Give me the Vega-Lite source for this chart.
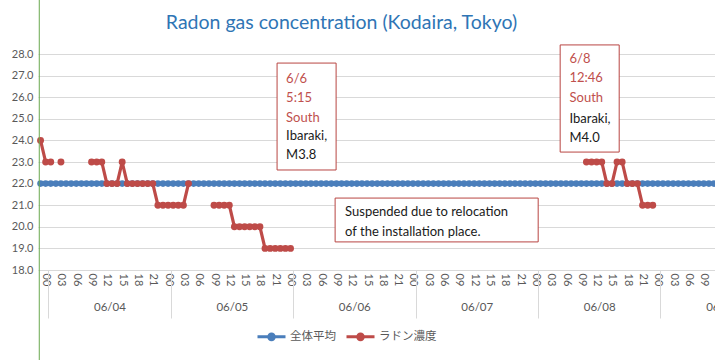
{
  "$schema": "https://vega.github.io/schema/vega-lite/v6.json",
  "width": 677,
  "height": 216,
  "autosize": {"type": "none"},
  "padding": {"left": 38, "top": 54, "right": 0, "bottom": 90},
  "background": "white",
  "title": {"text": "Radon gas concentration (Kodaira, Tokyo)", "font": "Lato", "fontSize": 19.5, "fontWeight": "normal", "color": "#2F75B5", "anchor": "middle", "dx": -35, "offset": -34},
  "datasets": {
    "avg": [
      {"h":-1,"v":22},{"h":0,"v":22},{"h":1,"v":22},{"h":2,"v":22},{"h":3,"v":22},{"h":4,"v":22},{"h":5,"v":22},{"h":6,"v":22},{"h":7,"v":22},{"h":8,"v":22},{"h":9,"v":22},{"h":10,"v":22},{"h":11,"v":22},{"h":12,"v":22},{"h":13,"v":22},{"h":14,"v":22},{"h":15,"v":22},{"h":16,"v":22},{"h":17,"v":22},{"h":18,"v":22},{"h":19,"v":22},{"h":20,"v":22},{"h":21,"v":22},{"h":22,"v":22},{"h":23,"v":22},
      {"h":24,"v":22},{"h":25,"v":22},{"h":26,"v":22},{"h":27,"v":22},{"h":28,"v":22},{"h":29,"v":22},{"h":30,"v":22},{"h":31,"v":22},{"h":32,"v":22},{"h":33,"v":22},{"h":34,"v":22},{"h":35,"v":22},{"h":36,"v":22},{"h":37,"v":22},{"h":38,"v":22},{"h":39,"v":22},{"h":40,"v":22},{"h":41,"v":22},{"h":42,"v":22},{"h":43,"v":22},{"h":44,"v":22},{"h":45,"v":22},{"h":46,"v":22},{"h":47,"v":22},
      {"h":48,"v":22},{"h":49,"v":22},{"h":50,"v":22},{"h":51,"v":22},{"h":52,"v":22},{"h":53,"v":22},{"h":54,"v":22},{"h":55,"v":22},{"h":56,"v":22},{"h":57,"v":22},{"h":58,"v":22},{"h":59,"v":22},{"h":60,"v":22},{"h":61,"v":22},{"h":62,"v":22},{"h":63,"v":22},{"h":64,"v":22},{"h":65,"v":22},{"h":66,"v":22},{"h":67,"v":22},{"h":68,"v":22},{"h":69,"v":22},{"h":70,"v":22},{"h":71,"v":22},
      {"h":72,"v":22},{"h":73,"v":22},{"h":74,"v":22},{"h":75,"v":22},{"h":76,"v":22},{"h":77,"v":22},{"h":78,"v":22},{"h":79,"v":22},{"h":80,"v":22},{"h":81,"v":22},{"h":82,"v":22},{"h":83,"v":22},{"h":84,"v":22},{"h":85,"v":22},{"h":86,"v":22},{"h":87,"v":22},{"h":88,"v":22},{"h":89,"v":22},{"h":90,"v":22},{"h":91,"v":22},{"h":92,"v":22},{"h":93,"v":22},{"h":94,"v":22},{"h":95,"v":22},
      {"h":96,"v":22},{"h":97,"v":22},{"h":98,"v":22},{"h":99,"v":22},{"h":100,"v":22},{"h":101,"v":22},{"h":102,"v":22},{"h":103,"v":22},{"h":104,"v":22},{"h":105,"v":22},{"h":106,"v":22},{"h":107,"v":22},{"h":108,"v":22},{"h":109,"v":22},{"h":110,"v":22},{"h":111,"v":22},{"h":112,"v":22},{"h":113,"v":22},{"h":114,"v":22},{"h":115,"v":22},{"h":116,"v":22},{"h":117,"v":22},{"h":118,"v":22},{"h":119,"v":22},
      {"h":120,"v":22},{"h":121,"v":22},{"h":122,"v":22},{"h":123,"v":22},{"h":124,"v":22},{"h":125,"v":22},{"h":126,"v":22},{"h":127,"v":22},{"h":128,"v":22},{"h":129,"v":22},{"h":130,"v":22},{"h":131,"v":22},{"h":132,"v":22}
    ],
    "radon": [
      {"h":-1,"v":24},{"h":0,"v":23},{"h":1,"v":23},{"h":2,"v":null},{"h":3,"v":23},{"h":4,"v":null},{"h":5,"v":null},{"h":6,"v":null},{"h":7,"v":null},{"h":8,"v":null},
      {"h":9,"v":23},{"h":10,"v":23},{"h":11,"v":23},{"h":12,"v":22},{"h":13,"v":22},{"h":14,"v":22},{"h":15,"v":23},
      {"h":16,"v":22},{"h":17,"v":22},{"h":18,"v":22},{"h":19,"v":22},{"h":20,"v":22},{"h":21,"v":22},
      {"h":22,"v":21},{"h":23,"v":21},{"h":24,"v":21},{"h":25,"v":21},{"h":26,"v":21},{"h":27,"v":21},{"h":28,"v":22},
      {"h":29,"v":null},{"h":30,"v":null},{"h":31,"v":null},{"h":32,"v":null},
      {"h":33,"v":21},{"h":34,"v":21},{"h":35,"v":21},{"h":36,"v":21},
      {"h":37,"v":20},{"h":38,"v":20},{"h":39,"v":20},{"h":40,"v":20},{"h":41,"v":20},{"h":42,"v":20},
      {"h":43,"v":19},{"h":44,"v":19},{"h":45,"v":19},{"h":46,"v":19},{"h":47,"v":19},{"h":48,"v":19},
      {"h":49,"v":null},{"h":105,"v":null},
      {"h":106,"v":23},{"h":107,"v":23},{"h":108,"v":23},{"h":109,"v":23},{"h":110,"v":22},{"h":111,"v":22},
      {"h":112,"v":23},{"h":113,"v":23},{"h":114,"v":22},{"h":115,"v":22},{"h":116,"v":22},
      {"h":117,"v":21},{"h":118,"v":21},{"h":119,"v":21},{"h":120,"v":null}
    ],
    "notes": [
      {"note":"q1","kind":"time","text":"6/6\n5:15\nSouth"},
      {"note":"q1","kind":"place","text":"Ibaraki,\nM3.8"},
      {"note":"q2","kind":"time","text":"6/8\n12:46\nSouth"},
      {"note":"q2","kind":"place","text":"Ibaraki,\nM4.0"},
      {"note":"s","kind":"place","text":"Suspended due to relocation\nof the installation place."}
    ]
  },
  "layer": [
    {
      "data": {"name": "avg"},
      "mark": {"type": "line", "strokeWidth": 3.5},
      "encoding": {
        "x": {"field": "h", "type": "quantitative", "scale": {"domain": [-1.5, 131.2], "nice": false, "zero": false},
          "axis": {"orient": "bottom", "values": [0,3,6,9,12,15,18,21,24,27,30,33,36,39,42,45,48,51,54,57,60,63,66,69,72,75,78,81,84,87,90,93,96,99,102,105,108,111,114,117,120,123,126,129],
            "labelExpr": "(datum.value % 24 < 10 ? '0' : '') + (datum.value % 24)", "labelAngle": 90, "ticks": false, "domain": false, "grid": false, "title": null,
            "labelFont": "Lato", "labelFontSize": 11, "labelColor": "#595959", "labelPadding": 3, "labelOverlap": false, "labelFlush": false, "labelBound": false}},
        "y": {"field": "v", "type": "quantitative", "scale": {"domain": [18, 28], "nice": false, "zero": false},
          "axis": {"orient": "left", "values": [18,19,20,21,22,23,24,25,26,27,28], "format": ".1f", "grid": true, "gridColor": "#d9d9d9", "ticks": false, "domain": false, "title": null,
            "labelFont": "Lato", "labelFontSize": 11, "labelColor": "#595959", "labelPadding": 5}},
        "color": {"datum": "全体平均", "type": "nominal",
          "scale": {"domain": ["全体平均", "ラドン濃度"], "range": ["#4A7EBB", "#BE4B48"]},
          "legend": {"orient": "none", "legendX": 218, "legendY": 267, "direction": "horizontal", "title": null,
            "symbolType": "M-1,0L1,0M-0.2,0A0.2,0.2,0,1,0,0.2,0A0.2,0.2,0,1,0,-0.2,0Z", "symbolSize": 784, "symbolStrokeWidth": 3,
            "labelFont": "Noto Sans CJK JP", "labelFontSize": 11.5, "labelColor": "#595959", "columnPadding": 4, "labelOffset": 3,
            "encode": {"symbols": {"update": {"fill": {"scale": "color", "field": "value"}, "stroke": {"scale": "color", "field": "value"}, "opacity": {"value": 1}}}}}}
      }
    },
    {
      "data": {"name": "avg"},
      "mark": {"type": "point", "filled": true, "size": 44, "opacity": 1},
      "encoding": {
        "x": {"field": "h", "type": "quantitative", "scale": {"domain": [-1.5, 131.2], "nice": false, "zero": false}, "axis": null},
        "y": {"field": "v", "type": "quantitative", "scale": {"domain": [18, 28], "nice": false, "zero": false}, "axis": null},
        "color": {"datum": "全体平均", "type": "nominal"}
      }
    },
    {
      "data": {"name": "radon"},
      "mark": {"type": "line", "strokeWidth": 3.2, "invalid": "break-paths-filter-domains"},
      "encoding": {
        "x": {"field": "h", "type": "quantitative", "scale": {"domain": [-1.5, 131.2], "nice": false, "zero": false}, "axis": null},
        "y": {"field": "v", "type": "quantitative", "scale": {"domain": [18, 28], "nice": false, "zero": false}, "axis": null},
        "color": {"datum": "ラドン濃度", "type": "nominal"}
      }
    },
    {
      "data": {"name": "radon"},
      "mark": {"type": "point", "filled": true, "size": 48, "opacity": 1},
      "encoding": {
        "x": {"field": "h", "type": "quantitative", "scale": {"domain": [-1.5, 131.2], "nice": false, "zero": false}, "axis": null},
        "y": {"field": "v", "type": "quantitative", "scale": {"domain": [18, 28], "nice": false, "zero": false}, "axis": null},
        "color": {"datum": "ラドン濃度", "type": "nominal"}
      }
    },
    {
      "data": {"values": [{}]},
      "mark": {"type": "rule", "color": "#6AA84F", "strokeWidth": 1},
      "encoding": {
        "x": {"datum": -1.25, "type": "quantitative", "scale": {"domain": [-1.5, 131.2], "nice": false, "zero": false},
          "axis": {"orient": "bottom", "values": [0.5, 24.5, 48.5, 72.5, 96.5, 120.5],
            "labelExpr": "'06/0' + (4 + floor(datum.value / 24))", "labelOffset": 61.2, "tickSize": 48, "tickColor": "#d9d9d9", "ticks": true, "domain": false, "grid": false, "title": null,
            "labelFont": "Lato", "labelFontSize": 11.5, "labelColor": "#595959", "labelPadding": -17, "labelAngle": 0, "labelOverlap": false, "labelFlush": false, "labelBound": false}},
        "y": {"datum": 30.5, "type": "quantitative", "scale": {"domain": [18, 28], "nice": false, "zero": false}, "axis": null},
        "y2": {"datum": 1.2}
      }
    },
    {
      "data": {"values": [{}]},
      "mark": {"type": "rect", "fill": "white", "stroke": "#B84542", "strokeWidth": 1},
      "encoding": {
        "x": {"datum": 45.36, "type": "quantitative", "scale": {"domain": [-1.5, 131.2], "nice": false, "zero": false}, "axis": null},
        "x2": {"datum": 56.93},
        "y": {"datum": 27.58, "type": "quantitative", "scale": {"domain": [18, 28], "nice": false, "zero": false}, "axis": null},
        "y2": {"datum": 22.63}
      }
    },
    {
      "data": {"values": [{}]},
      "mark": {"type": "rect", "fill": "white", "stroke": "#B84542", "strokeWidth": 1},
      "encoding": {
        "x": {"datum": 100.85, "type": "quantitative", "scale": {"domain": [-1.5, 131.2], "nice": false, "zero": false}, "axis": null},
        "x2": {"datum": 112.42},
        "y": {"datum": 28.42, "type": "quantitative", "scale": {"domain": [18, 28], "nice": false, "zero": false}, "axis": null},
        "y2": {"datum": 23.46}
      }
    },
    {
      "data": {"values": [{}]},
      "mark": {"type": "rect", "fill": "white", "stroke": "#B84542", "strokeWidth": 1},
      "encoding": {
        "x": {"datum": 56.74, "type": "quantitative", "scale": {"domain": [-1.5, 131.2], "nice": false, "zero": false}, "axis": null},
        "x2": {"datum": 96.54},
        "y": {"datum": 21.33, "type": "quantitative", "scale": {"domain": [18, 28], "nice": false, "zero": false}, "axis": null},
        "y2": {"datum": 19.30}
      }
    },
    {
      "data": {"name": "notes"},
      "transform": [{"filter": "datum.note == 'q1' && datum.kind == 'time'"}],
      "mark": {"type": "text", "align": "left", "baseline": "alphabetic", "font": "Lato", "fontSize": 13, "lineBreak": "\n", "lineHeight": 19.4, "color": "#C0504D"},
      "encoding": {
        "x": {"datum": 47.13, "type": "quantitative", "scale": {"domain": [-1.5, 131.2], "nice": false, "zero": false}, "axis": null},
        "y": {"datum": 26.67, "type": "quantitative", "scale": {"domain": [18, 28], "nice": false, "zero": false}, "axis": null},
        "text": {"field": "text"}
      }
    },
    {
      "data": {"name": "notes"},
      "transform": [{"filter": "datum.note == 'q1' && datum.kind == 'place'"}],
      "mark": {"type": "text", "align": "left", "baseline": "alphabetic", "font": "Lato", "fontSize": 13, "lineBreak": "\n", "lineHeight": 19.4, "color": "#1A1A1A"},
      "encoding": {
        "x": {"datum": 47.13, "type": "quantitative", "scale": {"domain": [-1.5, 131.2], "nice": false, "zero": false}, "axis": null},
        "y": {"datum": 24.04, "type": "quantitative", "scale": {"domain": [18, 28], "nice": false, "zero": false}, "axis": null},
        "text": {"field": "text"}
      }
    },
    {
      "data": {"name": "notes"},
      "transform": [{"filter": "datum.note == 'q2' && datum.kind == 'time'"}],
      "mark": {"type": "text", "align": "left", "baseline": "alphabetic", "font": "Lato", "fontSize": 13, "lineBreak": "\n", "lineHeight": 19.5, "color": "#C0504D"},
      "encoding": {
        "x": {"datum": 102.68, "type": "quantitative", "scale": {"domain": [-1.5, 131.2], "nice": false, "zero": false}, "axis": null},
        "y": {"datum": 27.59, "type": "quantitative", "scale": {"domain": [18, 28], "nice": false, "zero": false}, "axis": null},
        "text": {"field": "text"}
      }
    },
    {
      "data": {"name": "notes"},
      "transform": [{"filter": "datum.note == 'q2' && datum.kind == 'place'"}],
      "mark": {"type": "text", "align": "left", "baseline": "alphabetic", "font": "Lato", "fontSize": 13, "lineBreak": "\n", "lineHeight": 19.5, "color": "#1A1A1A"},
      "encoding": {
        "x": {"datum": 102.68, "type": "quantitative", "scale": {"domain": [-1.5, 131.2], "nice": false, "zero": false}, "axis": null},
        "y": {"datum": 24.81, "type": "quantitative", "scale": {"domain": [18, 28], "nice": false, "zero": false}, "axis": null},
        "text": {"field": "text"}
      }
    },
    {
      "data": {"name": "notes"},
      "transform": [{"filter": "datum.note == 's'"}],
      "mark": {"type": "text", "align": "left", "baseline": "alphabetic", "font": "Lato", "fontSize": 13, "lineBreak": "\n", "lineHeight": 20, "color": "#1A1A1A"},
      "encoding": {
        "x": {"datum": 58.7, "type": "quantitative", "scale": {"domain": [-1.5, 131.2], "nice": false, "zero": false}, "axis": null},
        "y": {"datum": 20.48, "type": "quantitative", "scale": {"domain": [18, 28], "nice": false, "zero": false}, "axis": null},
        "text": {"field": "text"}
      }
    }
  ],
  "resolve": {"axis": {"x": "independent", "y": "independent"}},
  "config": {"view": {"stroke": null}}
}
